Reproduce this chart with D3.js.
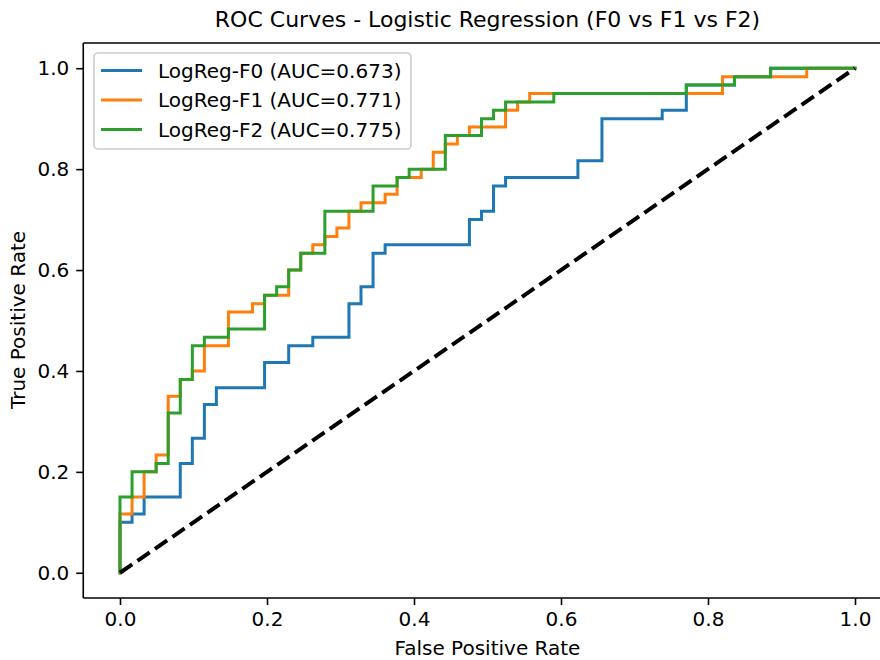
<!DOCTYPE html>
<html>
<head>
<meta charset="utf-8">
<script src="https://cdn.jsdelivr.net/npm/d3@7"></script>
<style>
  body { margin: 0; background: #fff; }
  svg { display: block; font-family: "DejaVu Sans", sans-serif; }
  .axis path { display: none; }
  .axis line { stroke: #000; stroke-width: 1.6; }
  .axis text { font-size: 20px; fill: #000; font-family: "DejaVu Sans", sans-serif; }
</style>
</head>
<body>
<svg width="880" height="660"></svg>
<script>
// ROC points [fpr, tpr]
const f0Points = [[0,0],[0,.1],[.0164,.1],[.0164,.1167],[.0328,.1167],[.0328,.15],[.082,.15],[.082,.2167],[.0984,.2167],[.0984,.2667],[.1148,.2667],[.1148,.3333],[.1311,.3333],[.1311,.3667],[.1967,.3667],[.1967,.4167],[.2295,.4167],[.2295,.45],[.2623,.45],[.2623,.4667],[.3115,.4667],[.3115,.5333],[.3279,.5333],[.3279,.5667],[.3443,.5667],[.3443,.6333],[.3607,.6333],[.3607,.65],[.4754,.65],[.4754,.7],[.4918,.7],[.4918,.7167],[.5082,.7167],[.5082,.7667],[.5246,.7667],[.5246,.7833],[.623,.7833],[.623,.8167],[.6557,.8167],[.6557,.9],[.7377,.9],[.7377,.9167],[.7705,.9167],[.7705,.9667],[.8361,.9667],[.8361,.9833],[.8852,.9833],[.8852,1],[1,1]];

const f1Points = [[0,0],[0,.1167],[.0164,.1167],[.0164,.15],[.0328,.15],[.0328,.2],[.0492,.2],[.0492,.2333],[.0656,.2333],[.0656,.35],[.082,.35],[.082,.3833],[.0984,.3833],[.0984,.4],[.1148,.4],[.1148,.45],[.1475,.45],[.1475,.5167],[.1803,.5167],[.1803,.5333],[.1967,.5333],[.1967,.55],[.2295,.55],[.2295,.6],[.2459,.6],[.2459,.6333],[.2623,.6333],[.2623,.65],[.2787,.65],[.2787,.6667],[.2951,.6667],[.2951,.6833],[.3115,.6833],[.3115,.7167],[.3279,.7167],[.3279,.7333],[.3607,.7333],[.3607,.75],[.377,.75],[.377,.7833],[.4098,.7833],[.4098,.8],[.4262,.8],[.4262,.8333],[.4426,.8333],[.4426,.85],[.459,.85],[.459,.8667],[.4754,.8667],[.4754,.8833],[.5246,.8833],[.5246,.9167],[.541,.9167],[.541,.9333],[.5574,.9333],[.5574,.95],[.8197,.95],[.8197,.9833],[.9344,.9833],[.9344,1],[1,1]];

const f2Points = [[0,0],[0,.15],[.0164,.15],[.0164,.2],[.0492,.2],[.0492,.2167],[.0656,.2167],[.0656,.3167],[.082,.3167],[.082,.3833],[.0984,.3833],[.0984,.45],[.1148,.45],[.1148,.4667],[.1475,.4667],[.1475,.4833],[.1967,.4833],[.1967,.55],[.2131,.55],[.2131,.5667],[.2295,.5667],[.2295,.6],[.2459,.6],[.2459,.6333],[.2787,.6333],[.2787,.7167],[.3443,.7167],[.3443,.7667],[.377,.7667],[.377,.7833],[.3934,.7833],[.3934,.8],[.4426,.8],[.4426,.8667],[.4918,.8667],[.4918,.9],[.5082,.9],[.5082,.9167],[.5246,.9167],[.5246,.9333],[.5902,.9333],[.5902,.95],[.7705,.95],[.7705,.9667],[.8361,.9667],[.8361,.9833],[.8852,.9833],[.8852,1],[1,1]];

const seriesNames = ["LogReg-F0", "LogReg-F1", "LogReg-F2"];
const aucValues = [0.673, 0.771, 0.775];
const colors = ["#1f77b4", "#ff7f0e", "#2ca02c"];
const diagonal = [[0,0],[1,1]];
const ticks = [0, 0.2, 0.4, 0.6, 0.8, 1.0];

const svg = d3.select("svg");

// axes box: left 83.25, top 43, bottom 598 (right edge runs past the picture)
const x = d3.scaleLinear().domain([-0.05, 1.05]).range([83.25, 891.75]);
const y = d3.scaleLinear().domain([-0.05, 1.05]).range([598, 43]);

svg.append("rect").attr("width", 880).attr("height", 660).attr("fill", "#fff");

const line = d3.line().x(d => x(d[0])).y(d => y(d[1]));

const series = [f0Points, f1Points, f2Points];

//曲线
svg.append("g").selectAll("path")
  .data(series)
  .enter()
  .append("path")
  .attr("d", line)
  .attr("fill", "none")
  .attr("stroke", (d, i) => colors[i])
  .attr("stroke-width", 3)
  .attr("stroke-linejoin", "miter")
  .attr("stroke-linecap", "square");

//对角线
svg.append("path")
  .datum(diagonal)
  .attr("d", line)
  .attr("fill", "none")
  .attr("stroke", "#000")
  .attr("stroke-width", 4)
  .attr("stroke-dasharray", "14.8,6.4");

//坐标轴
svg.append("g")
  .attr("class", "axis")
  .attr("transform", "translate(0,598)")
  .call(d3.axisBottom(x).tickValues(ticks).tickFormat(d3.format(".1f")).tickSize(7).tickPadding(7));

svg.append("g")
  .attr("class", "axis")
  .attr("transform", "translate(83.25,0)")
  .call(d3.axisLeft(y).tickValues(ticks).tickFormat(d3.format(".1f")).tickSize(7).tickPadding(7));

//边框
const frame = svg.append("g").attr("stroke", "#000").attr("stroke-width", 1.6);
frame.append("line").attr("x1", 83.25).attr("x2", 83.25).attr("y1", 43).attr("y2", 598);
frame.append("line").attr("x1", 83.25).attr("x2", 891.75).attr("y1", 598).attr("y2", 598);
frame.append("line").attr("x1", 83.25).attr("x2", 891.75).attr("y1", 43).attr("y2", 43);
frame.append("line").attr("x1", 891.75).attr("x2", 891.75).attr("y1", 43).attr("y2", 598);

//标题和轴标签
svg.append("text")
  .attr("x", 487.5).attr("y", 27)
  .attr("text-anchor", "middle")
  .attr("font-size", 22)
  .text("ROC Curves - Logistic Regression (F0 vs F1 vs F2)");

svg.append("text")
  .attr("x", 487.5).attr("y", 655)
  .attr("text-anchor", "middle")
  .attr("font-size", 20)
  .text("False Positive Rate");

svg.append("text")
  .attr("transform", "translate(25,320) rotate(-90)")
  .attr("text-anchor", "middle")
  .attr("font-size", 20)
  .text("True Positive Rate");

//图例
const legend = svg.append("g");
legend.append("rect")
  .attr("x", 94).attr("y", 53)
  .attr("width", 317).attr("height", 96)
  .attr("rx", 4)
  .attr("fill", "#fff").attr("fill-opacity", 0.8)
  .attr("stroke", "#cccccc").attr("stroke-width", 1.6);

const items = legend.selectAll("g.item")
  .data(seriesNames)
  .enter()
  .append("g")
  .attr("class", "item")
  .attr("transform", (d, i) => `translate(0,${70.5 + i * 29.5})`);

items.append("line")
  .attr("x1", 101).attr("x2", 142)
  .attr("stroke", (d, i) => colors[i])
  .attr("stroke-width", 3);

items.append("text")
  .attr("x", 158).attr("y", 7)
  .attr("font-size", 20)
  .text((d, i) => `${d} (AUC=${aucValues[i].toFixed(3)})`);
</script>
</body>
</html>
